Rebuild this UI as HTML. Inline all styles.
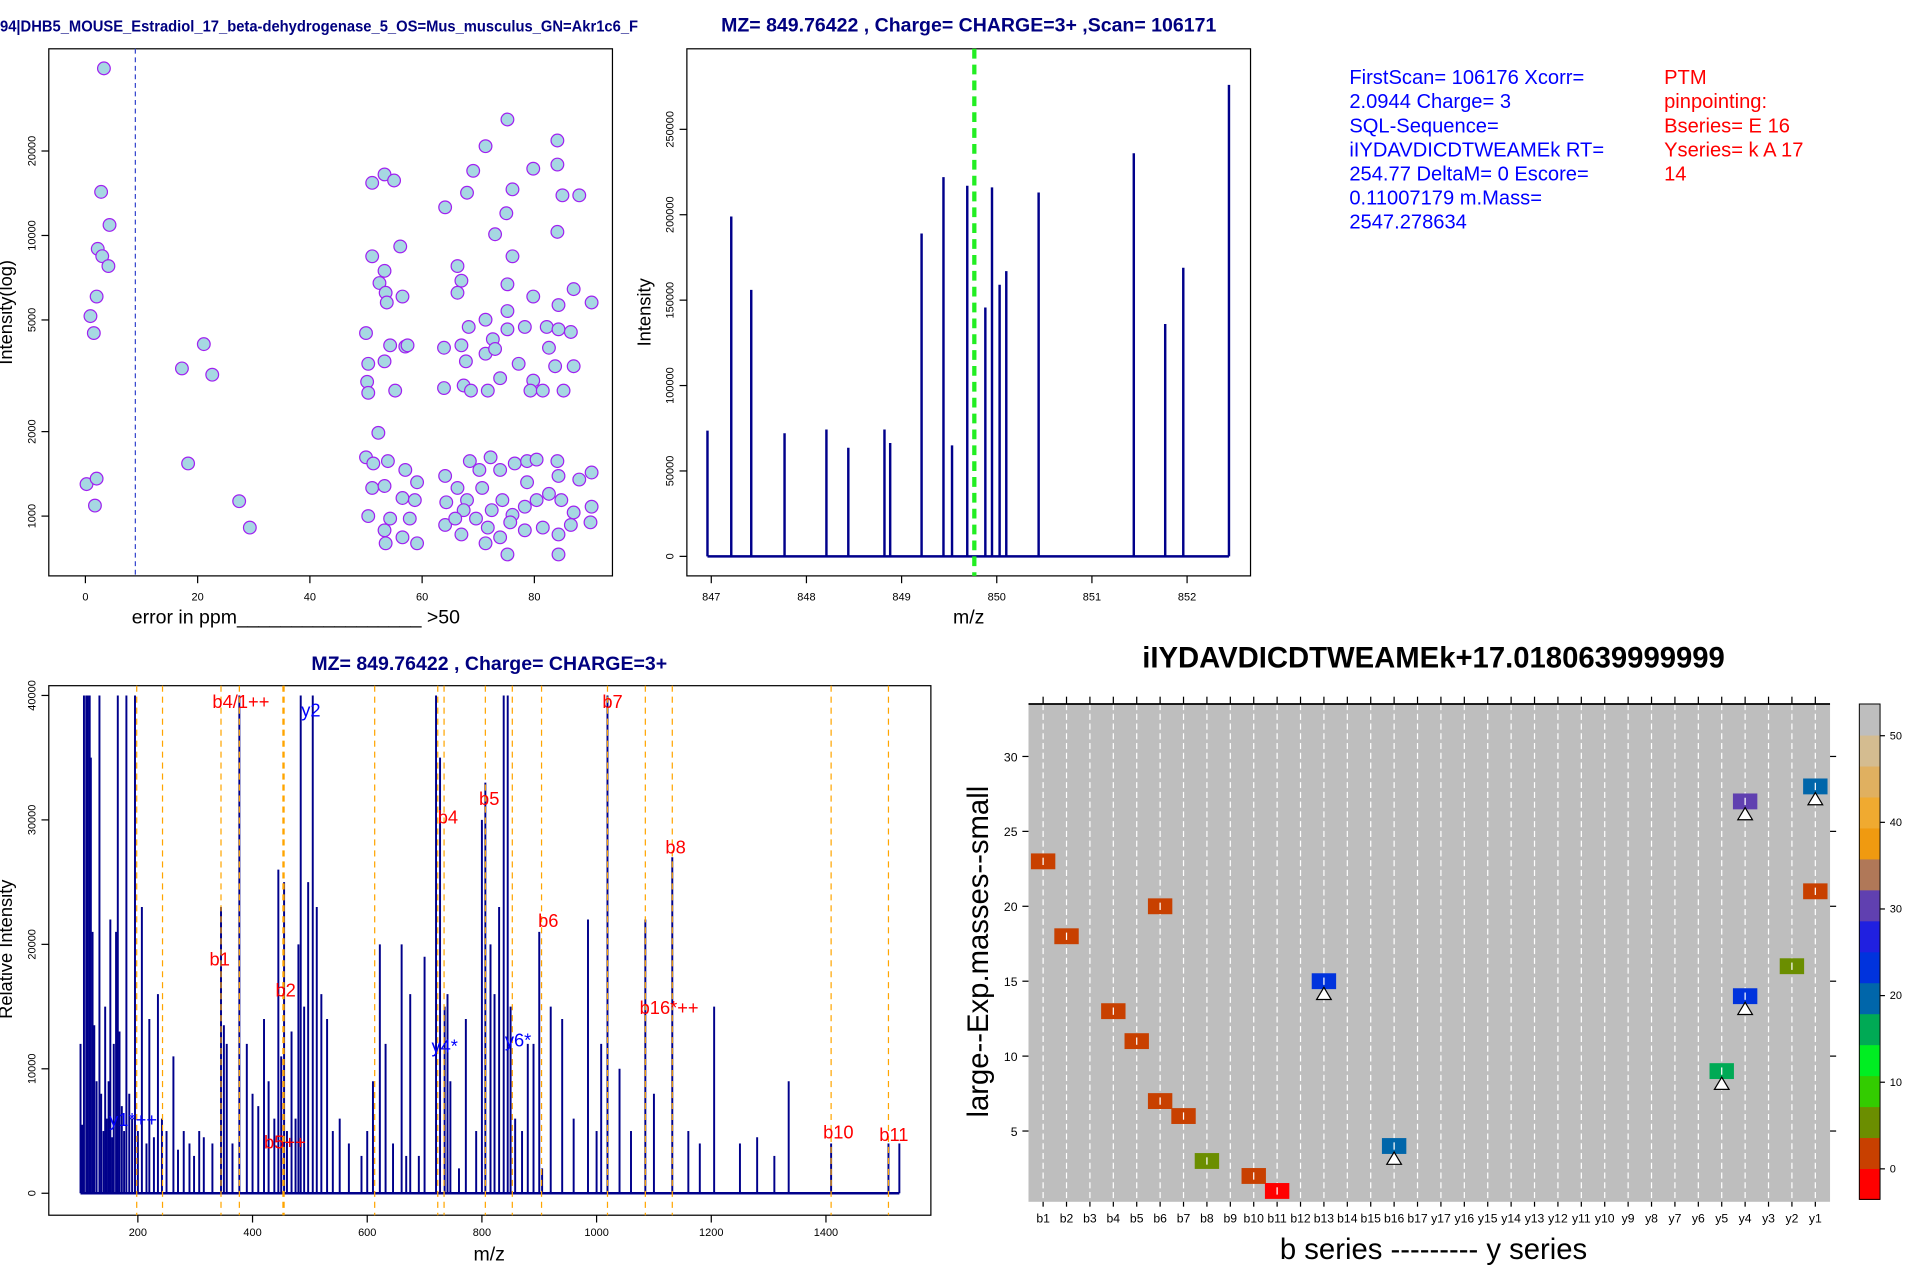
<!DOCTYPE html>
<html><head><meta charset="utf-8"><style>
html,body{margin:0;padding:0;background:#fff;}
svg{display:block;font-family:"Liberation Sans",Arial,sans-serif;}
</style></head><body>
<svg id="root" width="1913" height="1275" viewBox="0 0 1568 1045" preserveAspectRatio="none" xmlns="http://www.w3.org/2000/svg">
<rect width="1568" height="1045" fill="#fff"/>
<g id="p1"></g>
<g id="p2"></g>
<g id="info"></g>
<g id="p3"></g>
<g id="p4"></g>
</svg>
<script>
// ---------- Panel 1 data ----------
const p1Ppm = [3.3,2.8,4.3,2.2,3.0,4.1,2.0,0.9,1.5,0.2,2.0,1.7,
17.2,21.1,22.6,18.3,27.4,29.3,
51.1,53.3,55.0,51.1,56.1,53.3,52.4,53.5,56.5,53.7,50.0,54.3,57.0,50.4,53.3,50.2,55.2,57.4,50.4,
64.1,68.0,69.1,71.3,75.2,79.8,84.1,84.1,85.0,88.0,84.1,73.0,76.1,75.0,76.1,66.3,67.0,66.3,75.2,79.8,84.3,87.0,90.2,
68.3,71.3,75.2,72.6,75.2,78.3,82.2,84.3,86.5,63.9,67.0,67.8,71.3,73.0,77.2,82.6,83.7,87.0,71.7,73.9,79.8,85.2,63.9,67.4,68.7,79.3,81.5,
52.2,50.0,51.3,53.9,57.0,59.1,51.1,53.3,56.5,58.7,50.4,54.3,57.8,53.3,56.5,59.1,53.5,
68.5,70.2,72.2,73.9,76.5,78.7,80.4,84.1,84.3,88.0,90.2,64.1,66.3,68.0,70.7,72.4,74.3,76.1,78.3,80.4,82.6,84.8,87.0,90.2,
64.1,67.0,69.6,71.7,73.9,75.7,78.3,81.5,84.3,86.5,90.0,67.4,71.3,75.2,84.3,78.7,64.3,65.9];
const p1Int = [39400,14300,10900,8960,8440,7780,6060,5160,4490,1300,1360,1090,
3360,4100,3190,1540,1130,910,
15400,16500,15700,8430,9140,7480,6770,6250,6060,5770,4490,4060,4020,3490,3560,3010,2800,4060,2750,
12600,14200,17000,20800,25900,17300,21800,17900,13900,13900,10300,10100,14600,12000,8430,7780,6900,6250,6700,6060,5650,6440,5770,
4720,5010,5380,4270,4630,4720,4720,4630,4530,3980,4060,3560,3790,3940,3490,3980,3420,3420,2800,3100,3040,2800,2860,2920,2800,2800,2800,
1980,1620,1540,1570,1460,1320,1260,1280,1160,1140,1000,980,980,890,840,800,800,
1570,1460,1620,1460,1540,1570,1590,1570,1390,1350,1430,1390,1260,1140,1260,1050,1140,1010,1080,1140,1200,1140,1030,1080,
930,860,980,910,840,950,890,910,860,930,950,1050,800,730,730,1320,1120,980];
const p1XTicks = [0,20,40,60,80];
const p1YTicks = [1000,2000,5000,10000,20000];
const p1Cut = 8.9;
// ---------- Panel 2 data ----------
const p2Mz = [846.96,847.21,847.42,847.77,848.21,848.44,848.82,848.88,849.21,849.44,849.53,849.69,849.88,849.95,850.03,850.10,850.44,851.44,851.77,851.96,852.44];
const p2Int = [73600,199000,156000,72100,74300,63600,74300,66400,189000,222000,65000,217000,145700,216000,159000,167000,213000,236000,136000,169000,276000];
const p2XTicks = [847,848,849,850,851,852];
const p2YTicks = [0,50000,100000,150000,200000,250000];
const p2Prec = 849.76422;
// ---------- Panel 3 data ----------
const p3Mz = [100,103,106,110,113,116,118,121,124,128,133,136,140,143,146,149,152,155,158,162,165,168,172,176,180,185,190,195,200,207,215,220,228,235,242,250,262,270,280,290,298,307,315,330,345,350,355,365,377,390,400,410,420,428,438,445,450,455,460,468,475,480,484,490,497,505,512,520,530,540,552,568,590,600,610,622,632,645,660,668,675,690,700,720,727,735,740,745,760,772,790,800,806,815,822,830,838,845,850,858,870,880,890,900,905,920,940,960,985,1000,1008,1019,1040,1060,1085,1100,1132,1160,1180,1205,1250,1280,1310,1335,1409,1509,1528];
const p3Int = [12000,5500,40000,40000,40000,40000,35000,21000,13500,9000,40000,8000,5000,15000,6000,9000,22000,4500,12000,21000,40000,13000,7000,5000,40000,8000,6000,40000,5000,23000,4000,14000,4500,16000,6000,5000,11000,3500,5000,4000,3000,5000,4500,4000,23000,13500,12000,4000,40000,12000,8000,7000,14000,9000,6000,26000,11000,25000,5000,13000,6000,20000,40000,15000,25000,40000,23000,16000,14000,5000,6000,4000,3000,5000,9000,20000,12000,4000,20000,3000,16000,3000,19000,40000,35000,15000,16000,9000,2000,14000,5000,30000,33000,20000,16000,23000,40000,40000,15000,6000,5000,12000,12000,21000,2000,15000,14000,6000,22000,5000,12000,40000,10000,5000,22000,8000,27000,5000,4000,15000,4000,4500,3000,9000,4000,4000,4000];
const p3Guides = [198,243,345,377,453,455,613,723,734,806,853,904,1019,1085,1132,1409,1509];
const p3XTicks = [200,400,600,800,1000,1200,1400];
const p3YTicks = [0,10000,20000,30000,40000];
const p3LabTxt = ["b4/1++","y2","b7","b4","b5","b8","b6","b1","b2","b16*++","y4*","y6*","y1*++","b5++","b10","b11"];
const p3LabMz = [330,485,1010,723,795,1120,898,325,440,1075,712,840,150,420,1395,1493];
const p3LabInt = [39000,38300,39000,29700,31200,27300,21400,18300,15800,14400,11300,11800,5400,3600,4400,4200];
const p3LabCol = ["r","b","r","r","r","r","r","r","r","r","b","b","b","r","r","r"];
// ---------- Panel 4 data ----------
const p4Cols = ["b1","b2","b3","b4","b5","b6","b7","b8","b9","b10","b11","b12","b13","b14","b15","b16","b17","y17","y16","y15","y14","y13","y12","y11","y10","y9","y8","y7","y6","y5","y4","y3","y2","y1"];
const p4CellCol = ["b1","b2","b4","b5","b6","b6","b7","b8","b10","b11","b13","b16","y5","y4","y4","y2","y1","y1"];
const p4CellY = [23,18,13,11,20,7,6,3,2,1,15,4,9,27,14,16,28,21];
const p4CellVal = [2,2,2,2,2,2,2,6,2,-1,24,20,16,31,24,6,20,2];
const p4CellTri = [0,0,0,0,0,0,0,0,0,0,1,1,1,1,1,0,1,0];
const p4YTicks = [5,10,15,20,25,30];
const p4BarTicks = [0,10,20,30,40,50];
const p4BarColors = ["#ff0000","#c84000","#6b8e00","#33cc00","#00ee22","#00aa55","#0066aa","#0033dd","#2020e0","#6040b0","#b07858","#f09a10","#f0aa30","#e0b060","#d4bc90","#bebebe"];

const NS="http://www.w3.org/2000/svg";
function mk(tag,attrs,parent,txt){const e=document.createElementNS(NS,tag);for(const k in attrs)e.setAttribute(k,attrs[k]);if(txt!==undefined)e.textContent=txt;parent.appendChild(e);return e;}

// ===== Panel 1 =====
(function(){
const g=document.getElementById('p1');
const L=40,R=502,T=40,B=472;
const sx=v=>70+v*4.6, sy=v=>423-230*Math.log10(v/1000);
let t=mk('text',{x:0,y:26,'font-size':12.5,'font-weight':'bold',fill:'#000080',textLength:523,lengthAdjust:'spacingAndGlyphs'},g,'94|DHB5_MOUSE_Estradiol_17_beta-dehydrogenase_5_OS=Mus_musculus_GN=Akr1c6_F');


let f=mk('rect',{x:L,y:T,width:R-L,height:B-T,fill:'none',stroke:'#000','stroke-width':1},g);


let cl=mk('line',{x1:sx(p1Cut),x2:sx(p1Cut),y1:T,y2:B,stroke:'#3344cc','stroke-dasharray':'4,3','stroke-width':1},g);


for(let i=0;i<p1Ppm.length;i++){
 const c=mk('circle',{cx:sx(p1Ppm[i]),cy:sy(p1Int[i]),r:5.2,fill:'#a6d8e2',stroke:'#a020f0','stroke-width':1},g);
 
 
}
p1XTicks.forEach(v=>{
 mk('line',{x1:sx(v),x2:sx(v),y1:B,y2:B+6,stroke:'#000'},g);
 const l=mk('text',{x:sx(v),y:B+20,'font-size':9,'text-anchor':'middle'},g,String(v));
 
 
});
p1YTicks.forEach(v=>{
 mk('line',{x1:L-6,x2:L,y1:sy(v),y2:sy(v),stroke:'#000'},g);
 const l=mk('text',{x:0,y:0,'font-size':9,'text-anchor':'middle',transform:`translate(29,${sy(v)}) rotate(-90)`},g,String(v));
 
 
});
let yl=mk('text',{x:0,y:0,'font-size':15,'text-anchor':'middle',transform:'translate(10,256) rotate(-90)'},g,'Intensity(log)');


let xl=mk('text',{x:108,y:511,'font-size':16},g,'error in ppm_________________   >50');


})();

// ===== Panel 2 =====
(function(){
const g=document.getElementById('p2');
const L=563,R=1025,T=40,B=472;
const sx=v=>583+(v-847)*78, sy=v=>456-v*0.0014;
let t=mk('text',{x:794,y:26,'font-size':16,'font-weight':'bold',fill:'#000080','text-anchor':'middle'},g,'MZ= 849.76422 , Charge= CHARGE=3+ ,Scan= 106171');


let f=mk('rect',{x:L,y:T,width:R-L,height:B-T,fill:'none',stroke:'#000'},g);


let bl=mk('line',{x1:sx(p2Mz[0]),x2:sx(p2Mz[p2Mz.length-1]),y1:sy(0),y2:sy(0),stroke:'#00008b','stroke-width':2},g);


for(let i=0;i<p2Mz.length;i++){
 const p=mk('line',{x1:sx(p2Mz[i]),x2:sx(p2Mz[i]),y1:sy(0),y2:sy(p2Int[i]),stroke:'#00008b','stroke-width':2},g);
 
 
}
let pl=mk('line',{x1:sx(p2Prec),x2:sx(p2Prec),y1:T,y2:B,stroke:'#22ee22','stroke-width':3.5,'stroke-dasharray':'8,5'},g);


p2XTicks.forEach(v=>{
 mk('line',{x1:sx(v),x2:sx(v),y1:B,y2:B+6,stroke:'#000'},g);
 const l=mk('text',{x:sx(v),y:B+20,'font-size':9,'text-anchor':'middle'},g,String(v));
 
 
});
p2YTicks.forEach(v=>{
 mk('line',{x1:L-6,x2:L,y1:sy(v),y2:sy(v),stroke:'#000'},g);
 const l=mk('text',{x:0,y:0,'font-size':9,'text-anchor':'middle',transform:`translate(552,${sy(v)}) rotate(-90)`},g,String(v));
 
 
});
let yl=mk('text',{x:0,y:0,'font-size':15,'text-anchor':'middle',transform:'translate(533,256) rotate(-90)'},g,'Intensity');


let xl=mk('text',{x:794,y:511,'font-size':16,'text-anchor':'middle'},g,'m/z');


})();

// ===== Info text =====
(function(){
const g=document.getElementById('info');
const blue=['FirstScan= 106176 Xcorr=','2.0944 Charge= 3','SQL-Sequence=','iIYDAVDICDTWEAMEk RT=','254.77 DeltaM= 0 Escore=','0.11007179 m.Mass=','2547.278634'];
const red=['PTM','pinpointing:','Bseries= E 16','Yseries= k A 17','14'];
blue.forEach((s,i)=>{const t=mk('text',{x:1106,y:69+i*19.7,'font-size':16.5,fill:'#0000ff'},g,s);
 
 });
red.forEach((s,i)=>{const t=mk('text',{x:1364,y:69+i*19.7,'font-size':16.5,fill:'#ff0000'},g,s);
 
 });
})();

// ===== Panel 3 =====
(function(){
const g=document.getElementById('p3');
const L=40,R=763,T=562,B=996;
const sx=v=>113+(v-200)*0.47, sy=v=>978-v*0.0102;
let t=mk('text',{x:401,y:549,'font-size':16,'font-weight':'bold',fill:'#000080','text-anchor':'middle'},g,'MZ= 849.76422 , Charge= CHARGE=3+');


let f=mk('rect',{x:L,y:T,width:R-L,height:B-T,fill:'none',stroke:'#000'},g);


let bl=mk('line',{x1:sx(p3Mz[0]),x2:sx(p3Mz[p3Mz.length-1]),y1:sy(0),y2:sy(0),stroke:'#00008b','stroke-width':2},g);


for(let i=0;i<p3Mz.length;i++){
 const p=mk('line',{x1:sx(p3Mz[i]),x2:sx(p3Mz[i]),y1:sy(0),y2:sy(p3Int[i]),stroke:'#00008b','stroke-width':1.6},g);
 
 
}
p3Guides.forEach(v=>{
 const l=mk('line',{x1:sx(v),x2:sx(v),y1:T,y2:B,stroke:'#ffa500','stroke-width':1,'stroke-dasharray':'5,4'},g);
 
 
});
p3LabTxt.forEach((s,i)=>{
 const l=mk('text',{x:sx(p3LabMz[i]),y:sy(p3LabInt[i]),'font-size':15,fill:p3LabCol[i]==='r'?'#ff0000':'#0000ff'},g,s);
 
 
});
p3XTicks.forEach(v=>{
 mk('line',{x1:sx(v),x2:sx(v),y1:B,y2:B+6,stroke:'#000'},g);
 const l=mk('text',{x:sx(v),y:B+17,'font-size':9,'text-anchor':'middle'},g,String(v));
 
 
});
p3YTicks.forEach(v=>{
 mk('line',{x1:L-6,x2:L,y1:sy(v),y2:sy(v),stroke:'#000'},g);
 const l=mk('text',{x:0,y:0,'font-size':9,'text-anchor':'middle',transform:`translate(29,${sy(v)}) rotate(-90)`},g,String(v));
 
 
});
let yl=mk('text',{x:0,y:0,'font-size':15,'text-anchor':'middle',transform:'translate(10,778) rotate(-90)'},g,'Relative Intensity');


let xl=mk('text',{x:401,y:1033,'font-size':16,'text-anchor':'middle'},g,'m/z');


})();

// ===== Panel 4 =====
(function(){
const g=document.getElementById('p4');
const L=843,R=1500,T=577,B=985;
const cx=c=>855+p4Cols.indexOf(c)*19.18, sy=v=>927-(v-5)*12.28;
const bT=577,bB=983,bh=(bB-bT)/p4BarColors.length;
const by=v=>958-(v)*7.1;
const colorOf=v=>p4BarColors[Math.max(0,Math.min(15,Math.floor((bB-by(v))/bh)))];
let t=mk('text',{x:1175,y:547,'font-size':24,'font-weight':'bold','text-anchor':'middle'},g,'iIYDAVDICDTWEAMEk+17.0180639999999');


let bg=mk('rect',{x:L,y:T,width:R-L,height:B-T,fill:'#bebebe'},g);


p4Cols.forEach(c=>{
 const l=mk('line',{x1:cx(c),x2:cx(c),y1:T,y2:B,stroke:'#fff','stroke-dasharray':'5,3','stroke-width':1},g);
 
 
 mk('line',{x1:cx(c),x2:cx(c),y1:T-6,y2:T,stroke:'#000'},g);
 const tl=mk('text',{x:cx(c),y:B+17,'font-size':10,'text-anchor':'middle'},g,c);
 
 
 mk('line',{x1:cx(c),x2:cx(c),y1:B,y2:B+4,stroke:'#000'},g);
});
mk('line',{x1:L,x2:R,y1:T,y2:T,stroke:'#000','stroke-width':1.5},g);
for(let i=0;i<p4CellCol.length;i++){
 const x=cx(p4CellCol[i]), y=sy(p4CellY[i]);
 const r=mk('rect',{x:x-10,y:y-6.5,width:20,height:13,fill:colorOf(p4CellVal[i])},g);
 
 
 mk('line',{x1:x,x2:x,y1:y-3,y2:y+3,stroke:'#fff','stroke-width':1},g);
 if(p4CellTri[i]){
  const tri=mk('polygon',{points:`${x},${y+5} ${x-6},${y+15} ${x+6},${y+15}`,fill:'#fff',stroke:'#000','stroke-width':1},g);
  
  
 }
}
p4YTicks.forEach(v=>{
 mk('line',{x1:L-5,x2:L,y1:sy(v),y2:sy(v),stroke:'#000'},g);
 mk('line',{x1:R,x2:R+5,y1:sy(v),y2:sy(v),stroke:'#000'},g);
 const l=mk('text',{x:L-9,y:sy(v)+4,'font-size':10,'text-anchor':'end'},g,String(v));
 
 
});
let yl=mk('text',{x:0,y:0,'font-size':24,'text-anchor':'middle',transform:'translate(810,780) rotate(-90)'},g,'large--Exp.masses--small');


let xl=mk('text',{x:1175,y:1032,'font-size':24,'text-anchor':'middle'},g,'b series --------- y series');


p4BarColors.forEach((c,i)=>{
 const r=mk('rect',{x:1524,y:bB-(i+1)*bh,width:17,height:bh+0.5,fill:c},g);
 
 
});
mk('rect',{x:1524,y:bT,width:17,height:bB-bT,fill:'none',stroke:'#000','stroke-width':0.8},g);
p4BarTicks.forEach(v=>{
 mk('line',{x1:1541,x2:1545,y1:by(v),y2:by(v),stroke:'#000'},g);
 const l=mk('text',{x:1549,y:by(v)+3,'font-size':9},g,String(v));
 
 
});
})();
</script>
</body></html>
